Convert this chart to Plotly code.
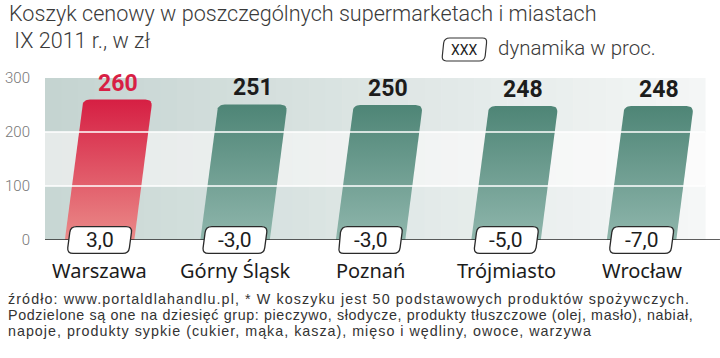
import math
import plotly.graph_objects as go

# ---- data ----
cities = ["Warszawa", "Górny Śląsk", "Poznań", "Trójmiasto", "Wrocław"]
prices = [260, 251, 250, 248, 248]
dynamics = ["3,0", "-3,0", "-3,0", "-5,0", "-7,0"]
highlight = [True, False, False, False, False]
y_ticks = [0, 100, 200, 300]

title_l1 = "Koszyk cenowy w poszczególnych supermarketach i miastach"
title_l2 = " IX 2011 r., w zł"
legend_key = "XXX"
legend_txt = "dynamika w proc."
foot = [
    "źródło: www.portaldlahandlu.pl, * W koszyku jest 50 podstawowych produktów spożywczych.",
    "Podzielone są one na dziesięć grup: pieczywo, słodycze, produkty tłuszczowe (olej, masło), nabiał,",
    "napoje, produkty sypkie (cukier, mąka, kasza), mięso i wędliny, owoce, warzywa",
]
foot_spacing = [1.1, 0.62, 1.0]

# ---- layout geometry ----
W, H = 720, 358
L, R, T, B = 40, 5, 78, 118
PW, PH = W - L - R, H - T - B
X0 = 95.0          # pixel of first category
STEP = 136.5       # pixels per category
XR = [(L - X0) / STEP, (W - R - X0) / STEP]
YR = [0, 300]
ux = 1 / STEP              # data units per px (x)
uy = (YR[1] - YR[0]) / PH  # data units per px (y)

def px(p):  # pixel x -> paper
    return (p - L) / PW

def py(p):  # pixel y -> paper
    return (H - B - p) / PH

def xd2px(xd):
    return L + (xd - XR[0]) / (XR[1] - XR[0]) * PW

def yd2px(yd):
    return H - B - (yd - YR[0]) / (YR[1] - YR[0]) * PH

BAR_W = 70 * ux
SLANT_PX = 0.13
SLANT = SLANT_PX * ux / uy  # x data-units per y data-unit
RAD = 7

def quad(s, P, e, n=8):
    pts = []
    for k in range(n + 1):
        t = k / n
        pts.append(((1 - t) ** 2 * s[0] + 2 * (1 - t) * t * P[0] + t ** 2 * e[0],
                    (1 - t) ** 2 * s[1] + 2 * (1 - t) * t * P[1] + t ** 2 * e[1]))
    return pts

def towards(P, Q, r):
    dx, dy = Q[0] - P[0], Q[1] - P[1]
    d = math.hypot(dx, dy)
    return (P[0] + dx / d * r, P[1] + dy / d * r)

def bar_poly(i, v):
    # work in pixel space, convert back to data units
    bl = (xd2px(i - BAR_W / 2), yd2px(0))
    br = (xd2px(i + BAR_W / 2), yd2px(0))
    dxp = SLANT_PX * (bl[1] - yd2px(v))
    tl = (bl[0] + dxp, yd2px(v))
    tr = (br[0] + dxp, yd2px(v))
    pts = [bl]
    pts += quad(towards(tl, bl, RAD), tl, towards(tl, tr, RAD))
    pts += quad(towards(tr, tl, RAD), tr, towards(tr, br, RAD))
    pts += [br, bl]
    xs = [XR[0] + (p[0] - L) / PW * (XR[1] - XR[0]) for p in pts]
    ys = [YR[0] + (H - B - p[1]) / PH * (YR[1] - YR[0]) for p in pts]
    return xs, ys

def rounded_box_path(cx, cy, w, h, r, slant):
    sh = slant * h / 2
    BL = (cx - w / 2 - sh, cy + h / 2)
    TL = (cx - w / 2 + sh, cy - h / 2)
    TR = (cx + w / 2 + sh, cy - h / 2)
    BR = (cx + w / 2 - sh, cy + h / 2)
    corners = [BL, TL, TR, BR]
    parts = []
    for k in range(4):
        P = corners[k]
        prev = corners[k - 1]
        nxt = corners[(k + 1) % 4]
        s = towards(P, prev, r)
        e = towards(P, nxt, r)
        cmd = "M" if k == 0 else "L"
        parts.append("%s%.3f,%.3f" % (cmd, px(s[0]), py(s[1])))
        parts.append("Q%.3f,%.3f %.3f,%.3f" % (px(P[0]), py(P[1]), px(e[0]), py(e[1])))
    return " ".join(parts) + " Z"

fig = go.Figure()

for i, (c, v, hl) in enumerate(zip(cities, prices, highlight)):
    xs, ys = bar_poly(i, v)
    if hl:
        cs = [[0, "#ea8a88"], [1, "#d61f43"]]
    else:
        cs = [[0, "#8fb6ac"], [1, "#4e8576"]]
    fig.add_trace(go.Scatter(
        x=xs, y=ys, mode="lines", fill="toself",
        line=dict(width=0, color="rgba(0,0,0,0)"),
        fillgradient=dict(type="vertical", colorscale=cs, start=0, stop=v),
        hoverinfo="skip", showlegend=False,
    ))

shapes = []

def lerp(c1, c2, t):
    a = [int(c1[k:k + 2], 16) for k in (1, 3, 5)]
    b = [int(c2[k:k + 2], 16) for k in (1, 3, 5)]
    return "rgb(%d,%d,%d)" % tuple(round(a[j] + (b[j] - a[j]) * t) for j in range(3))

BG_L, BG_R = L, 705
NS = 40
bands = [(200, 300, "#c5d4d1", "#f4f6f6"), (100, 200, "#e5eae9", "#fbfbfb"), (0, 100, "#c8d7d4", "#f5f7f7")]
for y0, y1, c1, c2 in bands:
    for k in range(NS):
        xa = BG_L + (BG_R - BG_L) * k / NS
        xb = BG_L + (BG_R - BG_L) * (k + 1) / NS + 0.5
        shapes.append(dict(type="rect", xref="paper", yref="y", x0=px(xa), x1=px(xb), y0=y0, y1=y1,
                           fillcolor=lerp(c1, c2, k / (NS - 1)), line=dict(width=0), layer="below"))

for g in y_ticks[1:3]:
    shapes.append(dict(type="line", xref="paper", yref="y", x0=px(BG_L), x1=px(BG_R), y0=g, y1=g,
                       line=dict(color="white", width=1.6), layer="above"))
shapes.append(dict(type="line", xref="paper", yref="y", x0=px(BG_L), x1=px(W), y0=0, y1=0,
                   line=dict(color="#2a2a2a", width=1.6), layer="above"))

# rounded, slanted label boxes for dynamics
for i in range(len(cities)):
    shapes.append(dict(type="path", xref="paper", yref="paper",
                       path=rounded_box_path(xd2px(i), yd2px(0), 62, 27, 6, SLANT_PX),
                       fillcolor="white", line=dict(color="#2a2a2a", width=1.3), layer="above"))
# legend key box
shapes.append(dict(type="path", xref="paper", yref="paper",
                   path=rounded_box_path(462.5, 49.5, 43, 23, 5, 0.13),
                   fillcolor="white", line=dict(color="#333", width=1.2), layer="above"))

ann = []
for i, (c, v, d, hl) in enumerate(zip(cities, prices, dynamics, highlight)):
    ann.append(dict(x=i + SLANT * v, y=v, xref="x", yref="y", text="<b>%d</b>" % v, showarrow=False,
                    yanchor="bottom", yshift=1,
                    font=dict(family="Roboto", size=23,
                              color="#d81f45" if hl else "#1c1c1c")))
    ann.append(dict(x=i, y=0, xref="x", yref="y", text=d, showarrow=False, yanchor="middle",
                    font=dict(family="Roboto", size=21, color="#1c1c1c")))
    ann.append(dict(x=i, y=py(270), xref="x", yref="paper", text=c, showarrow=False, yanchor="middle",
                    font=dict(family="Noto Sans", size=20, color="#1c1c1c")))

ann.append(dict(x=px(2), y=py(13), xref="paper", yref="paper", text=title_l1, showarrow=False,
                xanchor="left", yanchor="middle",
                font=dict(family="Roboto", size=21.6, color="#3a3a3a", weight=300)))
ann.append(dict(x=px(2), y=py(40), xref="paper", yref="paper", text=title_l2, showarrow=False,
                xanchor="left", yanchor="middle",
                font=dict(family="Roboto", size=21.6, color="#3a3a3a", weight=300)))
ann.append(dict(x=px(462.5), y=py(49.5), xref="paper", yref="paper", text=legend_key, showarrow=False,
                xanchor="center", yanchor="middle",
                font=dict(family="Roboto", size=14, color="#222")))
ann.append(dict(x=px(494), y=py(48), xref="paper", yref="paper", text=legend_txt, showarrow=False,
                xanchor="left", yanchor="middle",
                font=dict(family="Roboto", size=20.5, color="#3a3a3a", weight=300)))
for k, (line, sp) in enumerate(zip(foot, foot_spacing)):
    ann.append(dict(x=px(1), y=py(299 + 16 * k), xref="paper", yref="paper",
                    text='<span style="letter-spacing:%.2fpx">%s</span>' % (sp, line), showarrow=False,
                    xanchor="left", yanchor="middle",
                    font=dict(family="Liberation Sans", size=14.3, color="#333")))

fig.update_layout(
    width=W, height=H, margin=dict(l=L, r=R, t=T, b=B),
    paper_bgcolor="white", plot_bgcolor="white",
    xaxis=dict(range=XR, visible=False, fixedrange=True),
    yaxis=dict(range=YR, tickvals=y_ticks, showgrid=False, zeroline=False, showline=False,
               ticks="", ticklabelstandoff=14, fixedrange=True,
               tickfont=dict(family="Roboto", size=15, color="#777", weight=300)),
    shapes=shapes, annotations=ann, showlegend=False,
)

fig.write_html("out.html", config={"displayModeBar": False},
               post_script="document.body.style.margin='0';document.body.style.overflow='hidden';")
